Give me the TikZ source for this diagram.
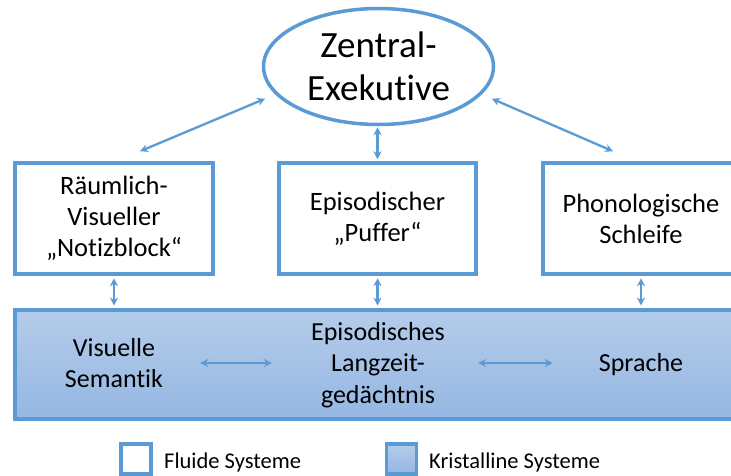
\documentclass[tikz,border=0pt]{standalone}
\usepackage{fontspec}
\setmainfont{Carlito}[Ligatures={NoCommon}]
\usetikzlibrary{arrows.meta,shapes.geometric,calc}
\definecolor{wmblue}{RGB}{91,155,213}
\definecolor{bandtop}{RGB}{180,204,234}
\definecolor{bandbot}{RGB}{149,183,226}
\begin{document}
\begin{tikzpicture}[x=1pt,y=-1pt,
  box/.style={draw=wmblue, line width=3.5pt, fill=white, rectangle, inner sep=0pt, align=center, font=\fontsize{26.5}{31}\selectfont},
  arr/.style={draw=wmblue, line width=2.3pt, {Stealth[length=8pt,width=8pt]}-{Stealth[length=8pt,width=8pt]}},
  txt/.style={inner sep=0pt, align=center, font=\fontsize{26}{31.5}\selectfont},
  legtxt/.style={anchor=base west, inner sep=0pt, font=\fontsize{22.5}{27}\selectfont}
]
\useasboundingbox (0,0) rectangle (731,475);
\clip (0,0) rectangle (731,475);

% central executive
\node[ellipse, draw=wmblue, line width=3.5pt, fill=white, minimum width=230pt, minimum height=116pt,
      inner sep=0pt, align=center, font=\fontsize{37}{43}\selectfont] (ell) at (378.5,66.5) {Zentral-\\Exekutive};

% fluid systems
\node[box, minimum width=198pt, minimum height=111pt] (lbox) at (114,218.5) {Räumlich-\\Visueller\\„Notizblock“};
\node[box, minimum width=197pt, minimum height=111pt] (mbox) at (377.5,218.5) {Episodischer\\„Puffer“};
\node[box, minimum width=196pt, minimum height=111pt] (rbox) at (641,218.5) {Phonologische\\Schleife};

% crystalline band
\node[draw=wmblue, line width=4pt, top color=bandtop, bottom color=bandbot,
      minimum width=735pt, minimum height=109pt, inner sep=0pt] (band) at (382.5,364.5) {};
\node[txt] (vs) at (114,363) {Visuelle\\Semantik};
\node[txt] (ep) at (378,365) {Episodisches\\Langzeit-\\gedächtnis};
\node[txt] (sp) at (641,365) {Sprache};

% arrows
\draw[arr] ([shift={(-11.5pt,-3pt)}]ell.196) -- ([shift={(26pt,10pt)}]lbox.north);
\draw[arr] ([shift={(11.5pt,-3pt)}]ell.-16) -- ([shift={(-28pt,10pt)}]rbox.north);
\draw[arr, shorten <=1pt, shorten >=2pt] (mbox.north |- ell.south) -- (mbox.north);
\draw[arr, shorten <=2.5pt, shorten >=2.5pt] (lbox.south) -- (lbox.south |- band.north);
\draw[arr, shorten <=2.5pt, shorten >=2.5pt] (mbox.south) -- (mbox.south |- band.north);
\draw[arr, shorten <=2.5pt, shorten >=2.5pt] (rbox.south) -- (rbox.south |- band.north);
\draw[arr, shorten <=37pt, shorten >=39pt] (vs.east) -- (vs.east -| ep.west);
\draw[arr, shorten <=33pt, shorten >=46pt] ([yshift=2pt]ep.east) -- ([yshift=2pt]sp.west);

% legend
\node[draw=wmblue, line width=3.5pt, fill=white, minimum size=30pt, inner sep=0pt] (lg1) at (136,459) {};
\node[legtxt] (lg1t) at (164,468) {Fluide Systeme};
\node[draw=wmblue, line width=3.5pt, top color=bandtop, bottom color=bandbot, minimum size=30pt, inner sep=0pt] (lg2) at (401.5,459) {};
\node[legtxt] (lg2t) at (429,468) {Kristalline Systeme};
\end{tikzpicture}
\end{document}
